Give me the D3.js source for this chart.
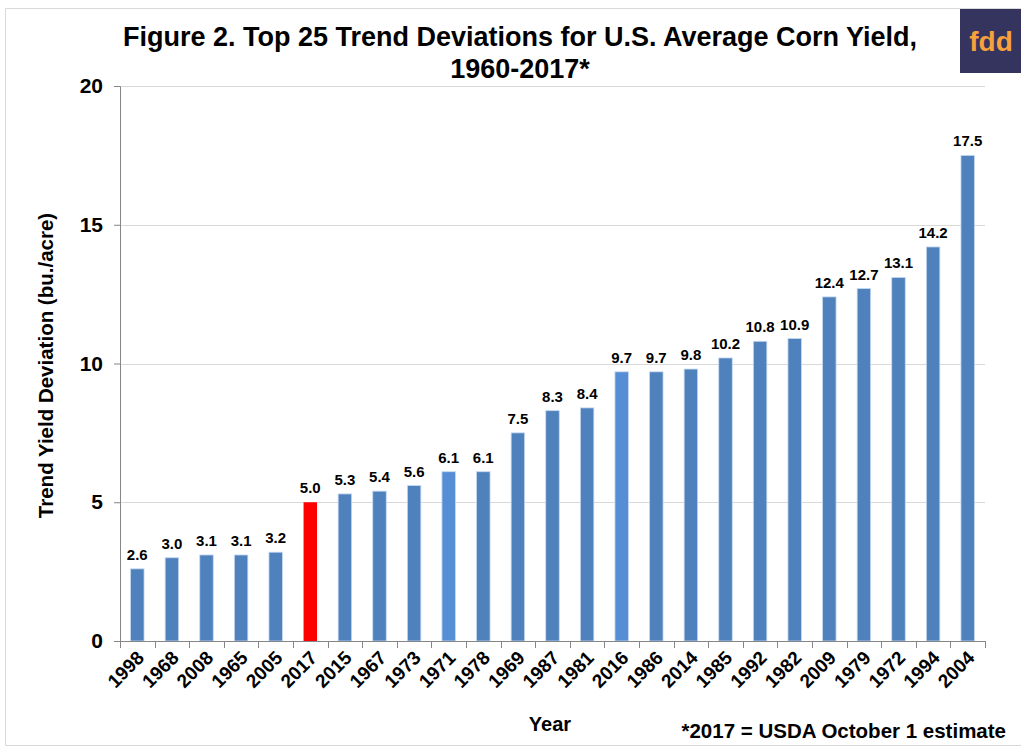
<!DOCTYPE html>
<html>
<head>
<meta charset="utf-8">
<script src="https://cdn.jsdelivr.net/npm/d3@7"></script>
<style>
  body { margin: 0; background: #fff; font-family: "Liberation Sans", Arial, sans-serif; overflow: hidden; }
  svg { display: block; }
  text { font-family: "Liberation Sans", Arial, sans-serif; font-weight: bold; fill: #000; }
</style>
</head>
<body>
<div id="chart"></div>
<script>
// top 25 trend deviations, sorted
const years = ["1998", "1968", "2008", "1965", "2005", "2017", "2015", "1967", "1973", "1971",
    "1978", "1969", "1987", "1981", "2016", "1986", "2014", "1985", "1992", "1982",
    "2009", "1979", "1972", "1994", "2004"];
const deviations = [2.6, 3.0, 3.1, 3.1, 3.2, 5.0, 5.3, 5.4, 5.6, 6.1,
    6.1, 7.5, 8.3, 8.4, 9.7, 9.7, 9.8, 10.2, 10.8, 10.9,
    12.4, 12.7, 13.1, 14.2, 17.5];
const yTicks = [0, 5, 10, 15, 20];
const highlightYear = "2017";
const lightYears = ["1971", "2016"];

const width = 1021, height = 747;
const margin = { left: 120, right: 36, top: 86, bottom: 106 };
const innerWidth = width - margin.left - margin.right;
const innerHeight = height - margin.top - margin.bottom;

const svg = d3.select("#chart").append("svg")
    .attr("width", width)
    .attr("height", height);

// outer frame
svg.append("path")
    .attr("d", `M${width},8.5H5.5V745.5H${width}`)
    .attr("fill", "none")
    .attr("stroke", "#d9d9d9");

const data = years.map((y, i) => ({ year: y, value: deviations[i] }));

const g = svg.append("g")
    .attr("transform", `translate(${margin.left},${margin.top})`);

const xScale = d3.scaleBand()
    .domain(years)
    .range([0, innerWidth])
    .paddingInner(0.61)
    .paddingOuter(0.305);

const yScale = d3.scaleLinear()
    .domain([0, 20])
    .range([innerHeight, 0]);

// gridlines
g.append("g").selectAll("line")
    .data(yTicks.filter(d => d > 0))
    .enter().append("line")
    .attr("x1", 0).attr("x2", innerWidth)
    .attr("y1", d => Math.round(yScale(d)) + 0.5)
    .attr("y2", d => Math.round(yScale(d)) + 0.5)
    .attr("stroke", "#d9d9d9");

// bars
g.selectAll(".bar").data(data)
  .enter().append("rect")
  .attr("class", "bar")
  .attr("x", d => xScale(d.year))
  .attr("y", d => yScale(d.value))
  .attr("width", xScale.bandwidth())
  .attr("height", d => innerHeight - yScale(d.value))
  .attr("fill", d => d.year === highlightYear ? "#ff0000"
        : (lightYears.includes(d.year) ? "#558ed5" : "#4f81bd"))
  .attr("stroke", d => d.year === highlightYear ? "none" : "#c6d9f1")
  .attr("stroke-width", 0.8);

// value labels
g.selectAll(".bar-value").data(data)
  .enter().append("text")
  .attr("class", "bar-value")
  .attr("x", d => xScale(d.year) + xScale.bandwidth() / 2)
  .attr("y", d => yScale(d.value) - 9)
  .attr("text-anchor", "middle")
  .style("font-size", "15px")
  .text(d => d.value.toFixed(1));

// y axis
const yAxis = d3.axisLeft(yScale)
    .tickValues(yTicks)
    .tickSize(6)
    .tickPadding(11);
const yAxisG = g.append("g").call(yAxis);
yAxisG.selectAll("text").style("font-size", "21px");
yAxisG.select(".domain").attr("stroke", "#868686").attr("d", `M-6,0.5H0.5V${innerHeight}`);
yAxisG.selectAll(".tick line").attr("stroke", "#868686");

// x axis, ticks between categories
const xAxisG = g.append("g")
    .attr("transform", `translate(0,${innerHeight})`);
xAxisG.append("line")
    .attr("x1", 0).attr("x2", innerWidth)
    .attr("y1", 0.5).attr("y2", 0.5)
    .attr("stroke", "#868686");
const step = xScale.step();
xAxisG.selectAll(".xtick").data(d3.range(years.length + 1))
  .enter().append("line")
  .attr("class", "xtick")
  .attr("x1", i => Math.round(i * step) + 0.5)
  .attr("x2", i => Math.round(i * step) + 0.5)
  .attr("y1", 0).attr("y2", 7)
  .attr("stroke", "#868686");
xAxisG.selectAll(".xlabel").data(years)
  .enter().append("text")
  .attr("class", "xlabel")
  .attr("transform", d => `translate(${xScale(d) + xScale.bandwidth() / 2 + 8},${18}) rotate(-45)`)
  .attr("text-anchor", "end")
  .style("font-size", "19px")
  .text(d => d);

// axis titles
svg.append("text")
    .attr("transform", `translate(53,${margin.top + innerHeight / 2 + 2}) rotate(-90)`)
    .attr("text-anchor", "middle")
    .style("font-size", "20.5px")
    .text("Trend Yield Deviation (bu./acre)");

svg.append("text")
    .attr("x", 550).attr("y", 731)
    .attr("text-anchor", "middle")
    .style("font-size", "20px")
    .text("Year");

svg.append("text")
    .attr("x", 1006).attr("y", 738)
    .attr("text-anchor", "end")
    .style("font-size", "20.5px")
    .text("*2017 = USDA October 1 estimate");

// title
svg.append("text")
    .attr("x", 520).attr("y", 46)
    .attr("text-anchor", "middle")
    .style("font-size", "27px")
    .text("Figure 2. Top 25 Trend Deviations for U.S. Average Corn Yield,");
svg.append("text")
    .attr("x", 520).attr("y", 78)
    .attr("text-anchor", "middle")
    .style("font-size", "27px")
    .text("1960-2017*");

// logo
svg.append("rect")
    .attr("x", 960).attr("y", 9)
    .attr("width", 61).attr("height", 64)
    .attr("fill", "#35345f");
svg.append("text")
    .attr("x", 991).attr("y", 51)
    .attr("text-anchor", "middle")
    .style("font-size", "28px")
    .style("fill", "#f7a13b")
    .text("fdd");
</script>
</body>
</html>
